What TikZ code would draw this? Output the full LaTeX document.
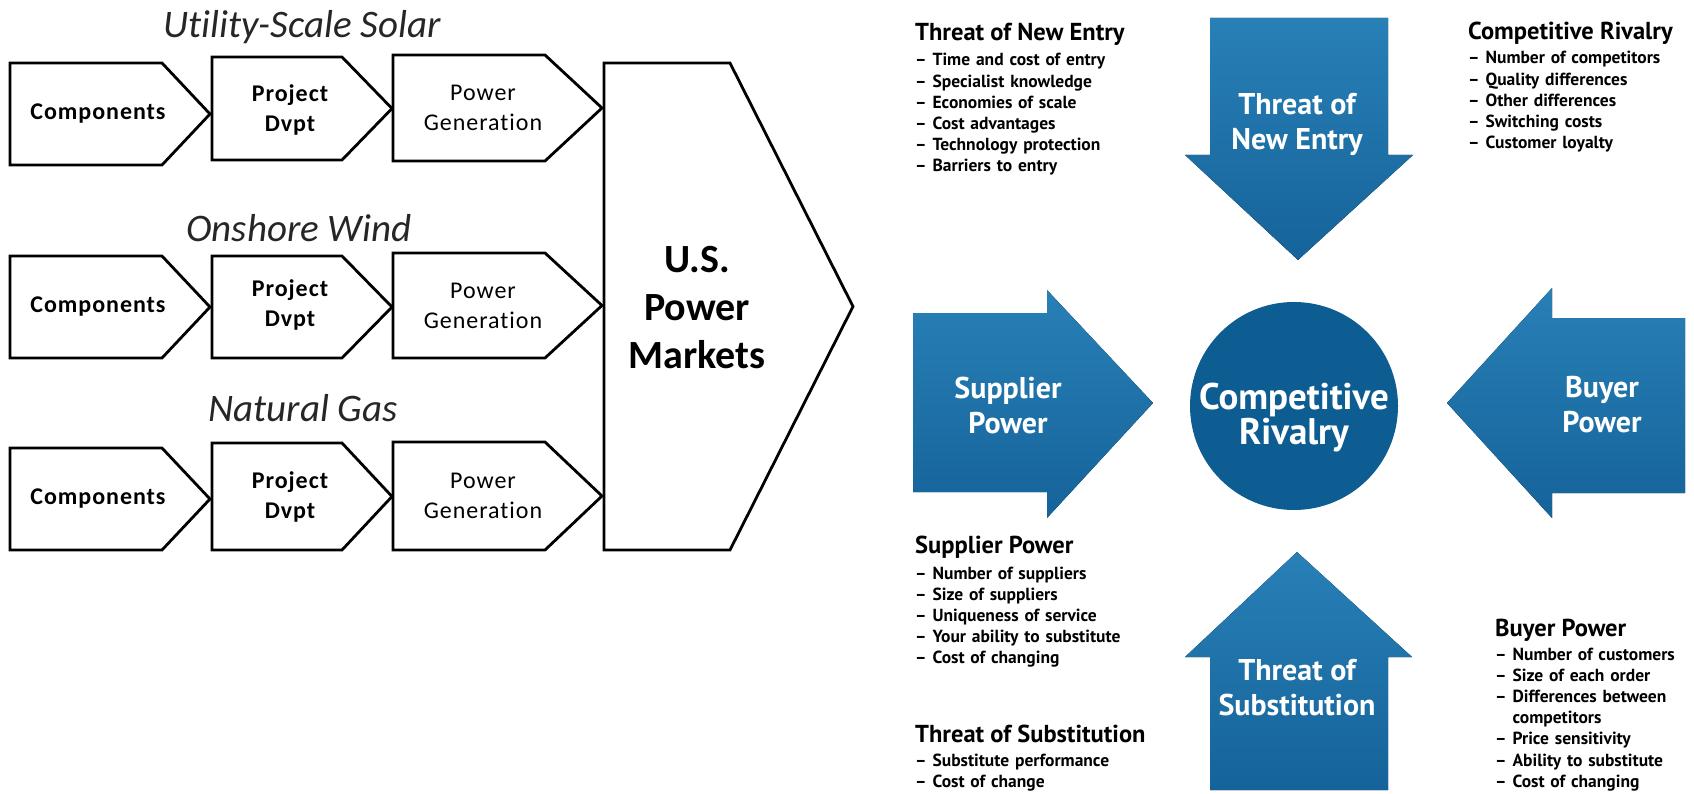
\documentclass[tikz,border=0pt]{standalone}
\usepackage{fontspec}
\setmainfont[Ligatures=NoCommon]{Carlito}
\newfontfamily\chevfont[LetterSpace=4,Ligatures=NoCommon]{Carlito}
\newfontfamily\ptsans{PT Sans}
\usetikzlibrary{positioning,calc}
\definecolor{portertop}{RGB}{40,128,182}
\definecolor{porterbot}{RGB}{21,99,154}
\definecolor{rivalblue}{RGB}{14,93,146}
% chevron: left x, shoulder x, tip x, top y, bottom y
\newcommand{\chevron}[5]{\draw[chev] (#1,#4) -- (#2,#4) -- (#3,{(#4+#5)/2}) -- (#2,#5) -- (#1,#5) -- cycle;}

\begin{document}
\begin{tikzpicture}[x=1pt,y=-1pt,
  chev/.style={line width=2.8pt,line join=miter,fill=white},
  boxtext/.style={align=center,inner sep=0pt,font=\chevfont\fontsize{24}{30}\selectfont},
  boldbox/.style={boxtext,font=\chevfont\bfseries\fontsize{24}{30}\selectfont},
  rowtitle/.style={inner sep=0pt,font=\itshape\fontsize{39}{40}\selectfont,text=black!85},
  bigtext/.style={align=center,inner sep=0pt,font=\bfseries\fontsize{40}{48}\selectfont},
  force/.style={top color=portertop,bottom color=porterbot,draw=none},
  arrowtext/.style={align=center,inner sep=0pt,text=white,font=\ptsans\bfseries\fontsize{30}{35}\selectfont},
  head/.style={inner sep=0pt,font=\ptsans\bfseries\fontsize{24.5}{26}\selectfont},
  itemlist/.style={text width=250pt,align=left,inner sep=0pt,font=\ptsans\bfseries\fontsize{17.5}{21.2}\selectfont}]
\useasboundingbox (0,0) rectangle (1694,794);

% value chains
\node[rowtitle] (solar) at (302,27) {Utility-Scale Solar};
\chevron{10}{162}{210}{63}{165}
\chevron{212}{342}{392}{57}{160}
\chevron{393}{545}{602}{55}{161}
\node[boldbox] (comp1) at (98,114) {Components};
\node[boldbox] (dvpt1) at (290,110) {Project\\Dvpt};
\node[boxtext] (gen1) at (483,108) {Power\\Generation};

\node[rowtitle] (wind) at (299,228) {Onshore Wind};
\chevron{10}{162}{210}{256}{358}
\chevron{212}{342}{392}{256}{358}
\chevron{393}{545}{602}{253}{358}
\node[boldbox] (comp2) at (98,307) {Components};
\node[boldbox] (dvpt2) at (290,305) {Project\\Dvpt};
\node[boxtext] (gen2) at (483,306) {Power\\Generation};

\node[rowtitle] (gas) at (303,408) {Natural Gas};
\chevron{10}{162}{210}{448}{550}
\chevron{212}{342}{392}{443}{550}
\chevron{393}{545}{602}{442}{550}
\node[boldbox] (comp3) at (98,499) {Components};
\node[boldbox] (dvpt3) at (290,497) {Project\\Dvpt};
\node[boxtext] (gen3) at (483,496) {Power\\Generation};

% markets
\chevron{604}{730}{853}{63}{550}
\node[bigtext] (market) at (697,308) {U.S.\\Power\\Markets};

% five forces
\fill[force] (1210,18) -- (1388,18) -- (1388,155) -- (1413,155) -- (1298,260) -- (1185,155) -- (1210,155) -- cycle;
\fill[force] (1210,790) -- (1388,790) -- (1388,657) -- (1412,657) -- (1297,552) -- (1185,657) -- (1210,657) -- cycle;
\fill[force] (913,313) -- (1047,313) -- (1047,290) -- (1153,403) -- (1047,518) -- (1047,492) -- (913,492) -- cycle;
\fill[force] (1685,318) -- (1552,318) -- (1552,288) -- (1447,403) -- (1552,518) -- (1552,493) -- (1685,493) -- cycle;
\node[circle,fill=rivalblue,minimum size=208pt,inner sep=0pt] (rival) at (1294,406) {};
\node[arrowtext,font=\ptsans\bfseries\fontsize{37}{35}\selectfont] (rivaltext) at (1294,418) {Competitive\\Rivalry};
\node[arrowtext] (entrytext) at (1297,124) {Threat of\\New Entry};
\node[arrowtext] (substtext) at (1297,688) {Threat of\\Substitution};
\node[arrowtext] (suppliertext) at (1008,405) {Supplier\\Power};
\node[arrowtext] (buyertext) at (1602,405) {Buyer\\Power};

% lists
\node[head,anchor=base west] (entryhead) at (915,41) {Threat of New Entry};
\node[itemlist,anchor=base west] (entrylist) at (915,66) {– Time and cost of entry\\– Specialist knowledge\\– Economies of scale\\– Cost advantages\\– Technology protection\\– Barriers to entry};
\node[head,anchor=base west] (rivalhead) at (1468,40) {Competitive Rivalry};
\node[itemlist,anchor=base west] (rivallist) at (1468,64) {– Number of competitors\\– Quality differences\\– Other differences\\– Switching costs\\– Customer loyalty};
\node[head,anchor=base west] (supplierhead) at (915,553) {Supplier Power};
\node[itemlist,anchor=base west] (supplierlist) at (915,579) {– Number of suppliers\\– Size of suppliers\\– Uniqueness of service\\– Your ability to substitute\\– Cost of changing};
\node[head,anchor=base west] (substhead) at (915,742) {Threat of Substitution};
\node[itemlist,anchor=base west] (substlist) at (915,766) {– Substitute performance\\– Cost of change};
\node[head,anchor=base west] (buyerhead) at (1495,636) {Buyer Power};
\node[itemlist,anchor=base west] (buyerlist) at (1495,660) {– Number of customers\\– Size of each order\\– Differences between\\\hphantom{– }competitors\\– Price sensitivity\\– Ability to substitute\\– Cost of changing};
\end{tikzpicture}
\end{document}
